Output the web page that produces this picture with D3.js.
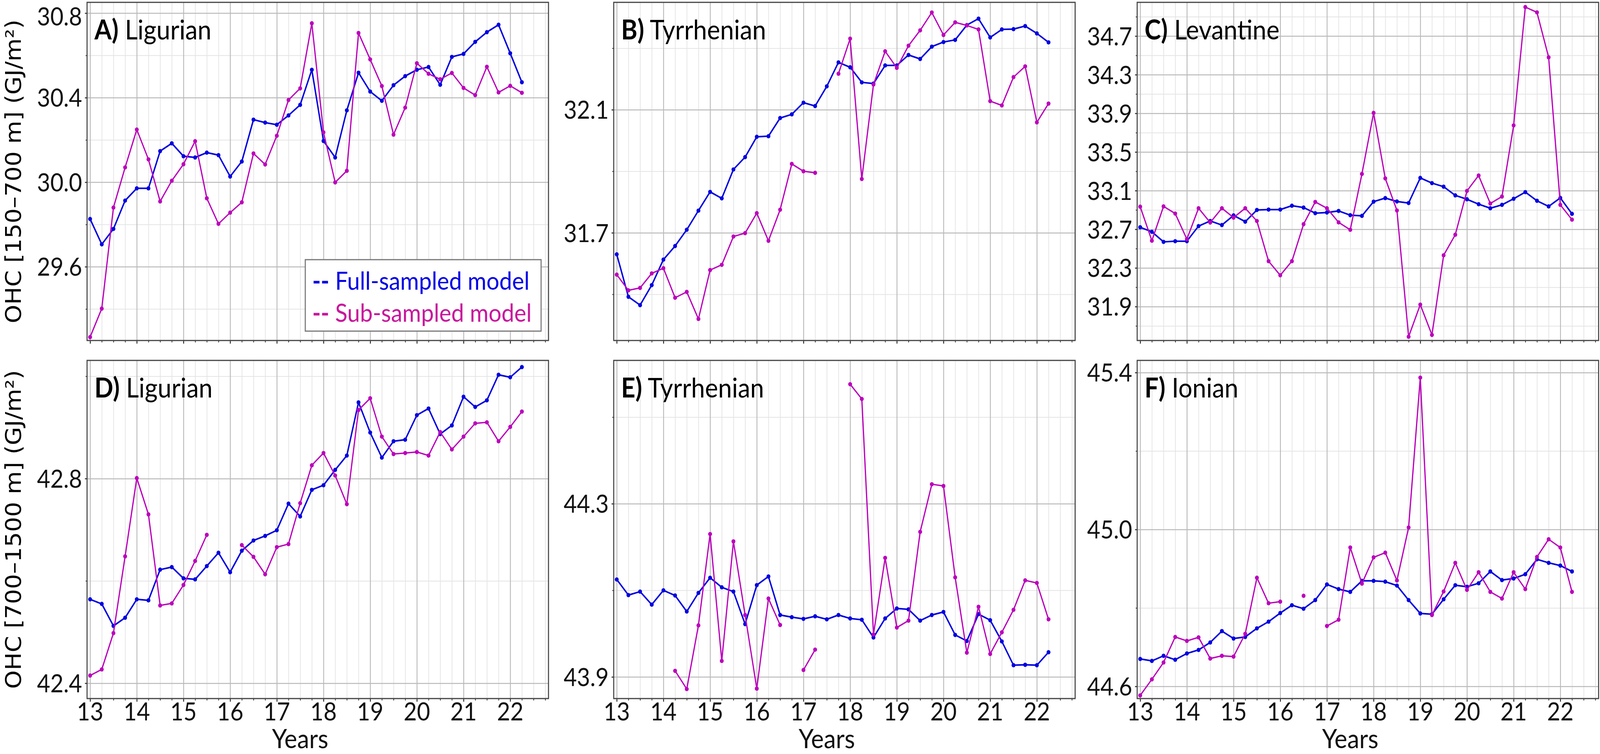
<!DOCTYPE html>
<html>
<head>
<meta charset="utf-8">
<script src="https://cdn.jsdelivr.net/npm/d3@7"></script>
<style>
  html, body { margin: 0; padding: 0; background: #fff; width: 100%; height: 100%; overflow: hidden; }
  #chart, svg { display: block; width: 100vw; height: 100vh; }
</style>
</head>
<body>
<div id="chart"></div>
<script>
// quarterly time axis (years since 2000)
const years = [13, 13.25, 13.5, 13.75, 14, 14.25, 14.5, 14.75, 15, 15.25, 15.5, 15.75,
  16, 16.25, 16.5, 16.75, 17, 17.25, 17.5, 17.75, 18, 18.25, 18.5, 18.75,
  19, 19.25, 19.5, 19.75, 20, 20.25, 20.5, 20.75, 21, 21.25, 21.5, 21.75, 22, 22.25];
const xTicks = [13, 14, 15, 16, 17, 18, 19, 20, 21, 22];

// 150-700 m
const ligurianUpperFull = [29.826, 29.706, 29.779, 29.913, 29.971, 29.971, 30.147, 30.184, 30.123, 30.117, 30.140, 30.128,
  30.027, 30.098, 30.296, 30.282, 30.272, 30.316, 30.366, 30.532, 30.195, 30.117, 30.340, 30.518,
  30.429, 30.385, 30.459, 30.502, 30.532, 30.545, 30.461, 30.593, 30.607, 30.664, 30.710, 30.745, 30.610, 30.473];
const ligurianUpperSub = [29.267, 29.402, 29.880, 30.070, 30.249, 30.108, 29.909, 30.007, 30.085, 30.194, 29.924, 29.803,
  29.856, 29.905, 30.136, 30.084, 30.220, 30.389, 30.444, 30.752, 30.236, 29.999, 30.054, 30.706,
  30.581, 30.455, 30.225, 30.353, 30.563, 30.513, 30.487, 30.517, 30.446, 30.412, 30.546, 30.425, 30.456, 30.423];
const tyrrhenianUpperFull = [31.630, 31.492, 31.465, 31.530, 31.613, 31.657, 31.710, 31.772, 31.833, 31.812, 31.906, 31.946,
  32.012, 32.014, 32.073, 32.085, 32.123, 32.112, 32.176, 32.254, 32.238, 32.189, 32.185, 32.244,
  32.244, 32.278, 32.265, 32.305, 32.320, 32.327, 32.375, 32.396, 32.335, 32.361, 32.362, 32.372, 32.348, 32.319];
const tyrrhenianUpperSub = [31.564, 31.513, 31.521, 31.568, 31.585, 31.489, 31.508, 31.420, 31.579, 31.596, 31.688, 31.699,
  31.764, 31.674, 31.775, 31.924, 31.900, 31.895, null, 32.217, 32.331, 31.875, 32.182, 32.290,
  32.236, 32.308, 32.358, 32.416, 32.343, 32.384, 32.374, 32.361, 32.128, 32.114, 32.206, 32.241, 32.059, 32.120];
const levantineUpperFull = [32.721, 32.674, 32.570, 32.577, 32.577, 32.733, 32.786, 32.744, 32.844, 32.779, 32.900, 32.904,
  32.904, 32.944, 32.925, 32.867, 32.874, 32.890, 32.846, 32.839, 32.986, 33.023, 32.988, 32.972,
  33.232, 33.178, 33.141, 33.051, 33.011, 32.960, 32.918, 32.953, 33.016, 33.085, 32.995, 32.937, 33.025, 32.860];
const levantineUpperSub = [32.934, 32.582, 32.937, 32.863, 32.598, 32.918, 32.770, 32.918, 32.821, 32.918, 32.786, 32.370,
  32.224, 32.370, 32.753, 32.983, 32.918, 32.772, 32.695, 33.273, 33.905, 33.227, 32.895, 31.588,
  31.920, 31.607, 32.431, 32.644, 33.097, 33.257, 32.967, 33.039, 33.775, 35.000, 34.945, 34.480, 32.953, 32.800];

// 700-1500 m
const ligurianDeepFull = [42.564, 42.555, 42.512, 42.528, 42.564, 42.562, 42.622, 42.627, 42.605, 42.603, 42.629, 42.655,
  42.617, 42.659, 42.679, 42.688, 42.699, 42.751, 42.726, 42.778, 42.787, 42.817, 42.845, 42.949,
  42.890, 42.841, 42.873, 42.876, 42.924, 42.937, 42.887, 42.904, 42.960, 42.940, 42.953, 43.003, 42.998, 43.018];
const ligurianDeepSub = [42.415, 42.427, 42.498, 42.648, 42.801, 42.730, 42.552, 42.556, 42.592, 42.639, 42.690, null,
  null, 42.670, 42.647, 42.613, 42.666, 42.672, 42.752, 42.826, 42.850, 42.806, 42.750, 42.934,
  42.957, 42.882, 42.848, 42.850, 42.852, 42.845, 42.891, 42.857, 42.882, 42.908, 42.910, 42.873, 42.901, 42.931];
const tyrrhenianDeepFull = [44.125, 44.089, 44.097, 44.067, 44.100, 44.088, 44.051, 44.094, 44.129, 44.107, 44.097, 44.022,
  44.112, 44.132, 44.043, 44.038, 44.034, 44.040, 44.033, 44.043, 44.035, 44.032, 43.991, 44.035,
  44.058, 44.056, 44.030, 44.043, 44.050, 43.997, 43.983, 44.045, 44.031, 43.982, 43.927, 43.928, 43.927, 43.957];
const tyrrhenianDeepSub = [null, null, null, null, null, 43.914, 43.872, 44.019, 44.230, 43.937, 44.213, 44.043,
  43.873, 44.081, 44.020, null, 43.916, 43.963, null, null, 44.576, 44.542, 43.998, 44.175,
  44.014, 44.030, 44.235, 44.345, 44.341, 44.130, 43.956, 44.062, 43.953, 44.003, 44.055, 44.123, 44.117, 44.033];
const ionianDeepFull = [44.670, 44.665, 44.678, 44.668, 44.684, 44.693, 44.712, 44.741, 44.722, 44.726, 44.748, 44.765,
  44.787, 44.807, 44.798, 44.820, 44.860, 44.848, 44.841, 44.869, 44.869, 44.867, 44.857, 44.820,
  44.786, 44.784, 44.822, 44.858, 44.854, 44.863, 44.893, 44.871, 44.875, 44.886, 44.924, 44.915, 44.908, 44.893];
const ionianDeepSub = [44.577, 44.618, 44.661, 44.726, 44.716, 44.725, 44.671, 44.678, 44.676, 44.734, 44.877, 44.812,
  44.816, null, 44.831, null, 44.754, 44.770, 44.954, 44.862, 44.929, 44.941, 44.870, 45.005,
  45.387, 44.782, 44.842, 44.915, 44.846, 44.891, 44.841, 44.824, 44.891, 44.848, 44.930, 44.975, 44.954, 44.841];

// axis tick labels
const ticksA = [29.6, 30.0, 30.4, 30.8];
const ticksB = [31.7, 32.1];
const ticksC = [31.9, 32.3, 32.7, 33.1, 33.5, 33.9, 34.3, 34.7];
const ticksD = [42.4, 42.8];
const ticksE = [43.9, 44.3];
const ticksF = [44.6, 45.0, 45.4];

const yLabels = ["OHC [150\u2013700 m] (GJ/m\u00b2)", "OHC [700\u20131500 m] (GJ/m\u00b2)"];
const legendLabels = ["Full-sampled model", "Sub-sampled model"];

// ---- layout ----
var width = 4539, height = 1931;
var lefts = [247, 1741, 3226], tops = [6, 923];
var pw = 1309, ph = 866;
var xDomain = [12.935, 22.82];
var fullColor = "#0000e0", subColor = "#bb00bb";
var legendFull = "#0000e6", legendSub = "#c8179c";
var labelFont = "Lato, 'Open Sans', sans-serif";

const panels = [
  {tag: "A)", name: "Ligurian", full: ligurianUpperFull, sub: ligurianUpperSub, dom: [29.251, 30.851], ticks: ticksA, row: 0, col: 0, legend: true},
  {tag: "B)", name: "Tyrrhenian", full: tyrrhenianUpperFull, sub: tyrrhenianUpperSub, dom: [31.35, 32.449], ticks: ticksB, row: 0, col: 1},
  {tag: "C)", name: "Levantine", full: levantineUpperFull, sub: levantineUpperSub, dom: [31.549, 35.049], ticks: ticksC, row: 0, col: 2},
  {tag: "D)", name: "Ligurian", full: ligurianDeepFull, sub: ligurianDeepSub, dom: [42.37, 43.031], ticks: ticksD, row: 1, col: 0},
  {tag: "E)", name: "Tyrrhenian", full: tyrrhenianDeepFull, sub: tyrrhenianDeepSub, dom: [43.85, 44.631], ticks: ticksE, row: 1, col: 1},
  {tag: "F)", name: "Ionian", full: ionianDeepFull, sub: ionianDeepSub, dom: [44.569, 45.431], ticks: ticksF, row: 1, col: 2}
];

// the drawing is laid out on a 4539x1931 canvas and stretched onto whatever viewport we get
const svg = d3.select("#chart").append("svg")
  .attr("viewBox", `0 0 ${width} ${height}`)
  .attr("preserveAspectRatio", "none")
  .style("background", "#fff");

// pick a font size so a sample string comes out at the width measured on the original
function fitSize(family, weight, str, target) {
  var t = svg.append("text").style("font-family", family).style("font-weight", weight)
    .style("font-size", "100px").text(str);
  var w = t.node().getComputedTextLength();
  t.remove();
  return w > 0 ? 100 * target / w : 60;
}
var tickSize = fitSize(labelFont, "normal", "30.8", 128);
var titleSize = fitSize(labelFont, "normal", "A) Ligurian", 330);
var legendSize = fitSize(labelFont, "normal", "-- Full-sampled model", 616);
var yearsSize = fitSize(labelFont, "normal", "Years", 160);
var yTitleFont = "'DejaVu Sans', Verdana, sans-serif";
var yTitleSize = fitSize(yTitleFont, "normal", yLabels[0], 778);

var x = d3.scaleLinear().domain(xDomain).range([0, pw]);
var xMinor = d3.range(13, 22.8, 0.25).filter(d => d % 1 !== 0);

panels.forEach(function(p) {
  var g = svg.append("g")
    .attr("transform", `translate(${lefts[p.col]},${tops[p.row]})`);
  var y = d3.scaleLinear().domain(p.dom).range([ph, 0]);
  // minor y ticks half way between the labelled ones
  var yMinor = [];
  p.ticks.forEach(t => { yMinor.push(t - 0.2, t + 0.2); });
  yMinor = yMinor.filter(v => v > p.dom[0] && v < p.dom[1]);
  yMinor = Array.from(new Set(yMinor.map(v => +v.toFixed(2))));

  // grid
  g.append("g")
    .call(d3.axisBottom(x).tickValues(xMinor).tickSize(ph).tickFormat(""))
    .call(a => a.select(".domain").remove())
    .call(a => a.selectAll("line").attr("stroke", "#e4e4e4").attr("stroke-width", 2));
  g.append("g")
    .call(d3.axisLeft(y).tickValues(yMinor).tickSize(-pw).tickFormat(""))
    .call(a => a.select(".domain").remove())
    .call(a => a.selectAll("line").attr("stroke", "#e4e4e4").attr("stroke-width", 2));
  g.append("g")
    .call(d3.axisBottom(x).tickValues(xTicks).tickSize(ph).tickFormat(""))
    .call(a => a.select(".domain").remove())
    .call(a => a.selectAll("line").attr("stroke", "#bababa").attr("stroke-width", 2.5));
  g.append("g")
    .call(d3.axisLeft(y).tickValues(p.ticks).tickSize(-pw).tickFormat(""))
    .call(a => a.select(".domain").remove())
    .call(a => a.selectAll("line").attr("stroke", "#bababa").attr("stroke-width", 2.5));

  // outer tick marks
  g.append("g").attr("transform", `translate(0,${ph})`)
    .call(d3.axisBottom(x).tickValues(xMinor).tickSize(5).tickFormat(""))
    .call(a => a.select(".domain").remove())
    .call(a => a.selectAll("line").attr("stroke", "#222").attr("stroke-width", 2));
  g.append("g").attr("transform", `translate(0,${ph})`)
    .call(d3.axisBottom(x).tickValues(xTicks).tickSize(8).tickFormat(""))
    .call(a => a.select(".domain").remove())
    .call(a => a.selectAll("line").attr("stroke", "#222").attr("stroke-width", 2.5));
  g.append("g")
    .call(d3.axisLeft(y).tickValues(yMinor).tickSize(4).tickFormat(""))
    .call(a => a.select(".domain").remove())
    .call(a => a.selectAll("line").attr("stroke", "#222").attr("stroke-width", 2));
  g.append("g")
    .call(d3.axisLeft(y).tickValues(p.ticks).tickSize(6).tickFormat(""))
    .call(a => a.select(".domain").remove())
    .call(a => a.selectAll("line").attr("stroke", "#222").attr("stroke-width", 2.5));

  // tick labels (keep the topmost one from poking above the canvas)
  var minBase = tickSize * 1.0 - tops[p.row];
  g.selectAll(".ylab").data(p.ticks).join("text")
    .attr("class", "ylab")
    .attr("x", -14).attr("y", d => Math.max(y(d) + 0.36 * tickSize, minBase))
    .attr("text-anchor", "end")
    .style("font-family", labelFont).style("font-size", tickSize + "px").style("fill", "#111")
    .text(d => d.toFixed(1));
  if (p.row === 1) {
    g.selectAll(".xlab").data(xTicks).join("text")
      .attr("class", "xlab")
      .attr("x", d => x(d)).attr("y", ph + 56)
      .attr("text-anchor", "middle")
      .style("font-family", labelFont).style("font-size", tickSize + "px").style("fill", "#111")
      .text(d => d);
    g.append("text")
      .attr("x", x(17.5)).attr("y", 1916 - tops[1])
      .attr("text-anchor", "middle")
      .style("font-family", labelFont).style("font-size", yearsSize + "px").style("fill", "#111")
      .text("Years");
  }

  // series
  var line = d3.line()
    .defined(v => v != null)
    .x((v, i) => x(years[i]))
    .y(v => y(v));
  [[p.full, fullColor, 4], [p.sub, subColor, 3.5]].forEach(function(s) {
    g.append("path").datum(s[0])
      .attr("fill", "none").attr("stroke", s[1]).attr("stroke-width", s[2])
      .attr("stroke-linejoin", "round")
      .attr("d", line);
    g.append("g").selectAll("circle")
      .data(s[0].map((v, i) => [years[i], v]).filter(d => d[1] != null))
      .join("circle")
      .attr("cx", d => x(d[0])).attr("cy", d => y(d[1]))
      .attr("r", 5.5).attr("fill", s[1]);
  });

  // frame
  g.append("rect")
    .attr("width", pw).attr("height", ph)
    .attr("fill", "none").attr("stroke", "#444").attr("stroke-width", 3);

  // panel title
  var t = g.append("text")
    .attr("x", 21).attr("y", 95)
    .style("font-family", labelFont).style("font-size", titleSize + "px").style("fill", "#000");
  t.append("tspan").style("font-weight", "bold").text(p.tag);
  t.append("tspan").text(" " + p.name);

  if (p.legend) {
    var lg = g.append("g").attr("transform", "translate(619,659)");
    lg.append("rect").attr("width", 669).attr("height", 183)
      .attr("fill", "#fff").attr("stroke", "#777").attr("stroke-width", 3);
    [legendFull, legendSub].forEach(function(c, i) {
      var lt = lg.append("text")
        .attr("x", 20).attr("y", 77 + i * 82)
        .style("font-family", labelFont).style("font-size", legendSize + "px").style("fill", c);
      lt.append("tspan").style("font-weight", "bold").text("--");
      lt.append("tspan").text(" " + legendLabels[i]);
    });
  }
});

// y axis titles, one per row
svg.selectAll(".ytitle").data(yLabels).join("text")
  .attr("class", "ytitle")
  .attr("transform", (d, i) => `translate(38,${tops[i] + ph / 2}) rotate(-90)`)
  .attr("text-anchor", "middle")
  .attr("dominant-baseline", "central")
  .style("font-family", yTitleFont)
  .style("font-size", yTitleSize + "px").style("fill", "#000")
  .text(d => d);
</script>
</body>
</html>
